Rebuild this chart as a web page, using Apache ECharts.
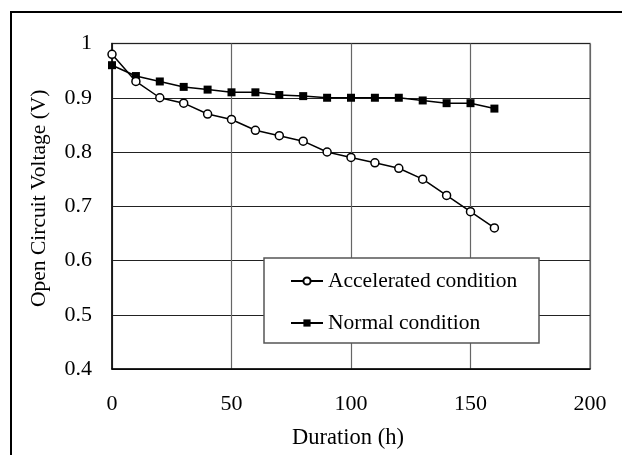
<!DOCTYPE html>
<html>
<head>
<meta charset="utf-8">
<script src="https://cdn.jsdelivr.net/npm/echarts@6/dist/echarts.min.js"></script>
<style>html,body{margin:0;padding:0;background:#fff;}#c{width:622px;height:455px;}</style>
</head>
<body>
<div id="c"></div>
<script>
const durations = [0,10,20,30,40,50,60,70,80,90,100,110,120,130,140,150,160];
const accelerated = [0.98,0.93,0.90,0.89,0.87,0.86,0.84,0.83,0.82,0.80,0.79,0.78,0.77,0.75,0.72,0.69,0.66];
const normal = [0.96,0.94,0.93,0.92,0.915,0.91,0.91,0.905,0.903,0.90,0.90,0.90,0.90,0.895,0.89,0.89,0.88];
const seriesNames = ['Accelerated condition','Normal condition'];
const xAxisName = 'Duration (h)';
const yAxisName = 'Open Circuit Voltage (V)';

const FONT = '"Liberation Serif", "DejaVu Serif", serif';
const chart = echarts.init(document.getElementById('c'), null, {renderer:'canvas'});
const pair = (ys) => durations.map((x,i)=>[x, ys[i]]);
chart.setOption({
  animation:false,
  backgroundColor:'#fff',
  textStyle:{fontFamily:FONT},
  grid:{left:112, top:43.5, right:32, bottom:82.5, show:true, borderColor:'#888', borderWidth:1.5, backgroundColor:'transparent'},
  xAxis:{
    type:'value', min:0, max:200, interval:50,
    name:xAxisName, nameLocation:'middle', nameGap:58,
    nameTextStyle:{fontFamily:FONT, fontSize:22.5, color:'#000', padding:[0,6,0,0]},
    axisLine:{show:true, lineStyle:{color:'#000', width:1.5}},
    axisTick:{show:false},
    axisLabel:{fontFamily:FONT, fontSize:22, color:'#000', margin:24},
    splitLine:{show:true, lineStyle:{color:'#666', width:1.2}}
  },
  yAxis:{
    type:'value', min:0.4, max:1, interval:0.1,
    name:yAxisName, nameLocation:'middle', nameGap:62, nameRotate:90,
    nameTextStyle:{fontFamily:FONT, fontSize:21.5, color:'#000', padding:[0,0,0,16]},
    axisLine:{show:true, lineStyle:{color:'#000', width:1.5}},
    axisTick:{show:false},
    axisLabel:{fontFamily:FONT, fontSize:22, color:'#000', margin:20,
      formatter:(v)=>String(+(+v).toFixed(1))},
    splitLine:{show:true, lineStyle:{color:'#222', width:1.2}}
  },
  legend:{
    orient:'vertical', left:290, top:270, z:20, padding:0,
    itemWidth:32, itemHeight:9, itemGap:20,
    textStyle:{fontFamily:FONT, fontSize:21.5, color:'#000', lineHeight:22},
    data:seriesNames
  },
  graphic:[
    {type:'rect', z:15, shape:{x:264, y:258, width:275, height:85}, style:{fill:'#fff', stroke:'#555', lineWidth:1.5}},
    {type:'rect', z:30, shape:{x:11, y:12, width:800, height:800}, style:{fill:'none', stroke:'#000', lineWidth:2}}
  ],
  series:[
    {name:seriesNames[0], type:'line', data:pair(accelerated), symbol:'circle', symbolSize:8,
     lineStyle:{color:'#000', width:1.5}, itemStyle:{color:'#fff', borderColor:'#000', borderWidth:1.5}, z:3},
    {name:seriesNames[1], type:'line', data:pair(normal), symbol:'rect', symbolSize:8,
     lineStyle:{color:'#000', width:1.5}, itemStyle:{color:'#000', borderColor:'#000', borderWidth:0}, z:2}
  ]
});
</script>
</body>
</html>
